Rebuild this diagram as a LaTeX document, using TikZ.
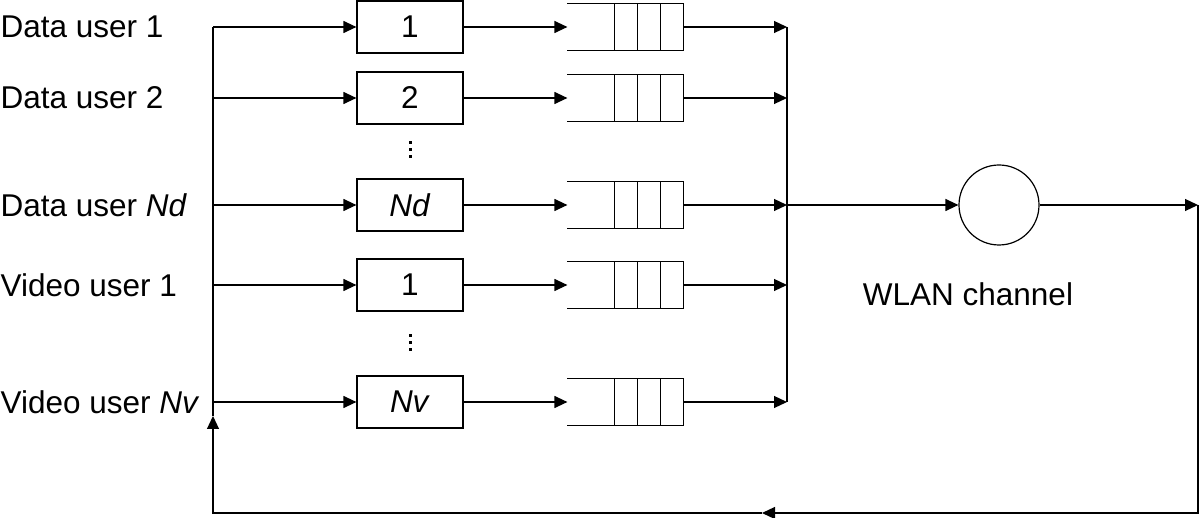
\documentclass[tikz,border=0pt]{standalone}
\usepackage{fontspec}
\setmainfont{Liberation Sans}
\usetikzlibrary{arrows.meta}
\newcommand\qcells[1]{%
  \draw (#1.north west) -- (#1.north east) -- (#1.south east) -- (#1.south west);
  \draw ([xshift=-23pt]#1.north east) -- ([xshift=-23pt]#1.south east);
  \draw ([xshift=-46pt]#1.north east) -- ([xshift=-46pt]#1.south east);
  \draw ([xshift=-69pt]#1.north east) -- ([xshift=-69pt]#1.south east);}
\begin{document}
\begin{tikzpicture}[x=1pt,y=-1pt,
  line width=1.2pt,
  arr/.style={-{Triangle[length=13pt,width=12pt]}},
  lbl/.style={anchor=west,inner sep=0pt,font=\fontsize{31.5}{37}\selectfont},
  srcbox/.style={draw,minimum width=106pt,minimum height=52pt,inner sep=0pt,font=\fontsize{31.5}{37}\selectfont},
  queue/.style={minimum width=115pt,minimum height=46pt,inner sep=0pt},
  chan/.style={draw,circle,minimum size=80pt,inner sep=0pt},
  dot/.style={fill=black}]
\useasboundingbox (0,0) rectangle (1200,518);
% labels
\node[lbl] (u1) at (0,27) {Data user 1};
\node[lbl] (u2) at (0,98) {Data user 2};
\node[lbl] (u3) at (0,205) {Data user \textit{Nd}};
\node[lbl] (u4) at (0,285) {Video user 1};
\node[lbl] (u5) at (0,402) {Video user \textit{Nv}};
% bus coordinates
\coordinate (b1) at (213,27);
\coordinate (b2) at (213,98);
\coordinate (b3) at (213,205);
\coordinate (b4) at (213,285);
\coordinate (b5) at (213,402);
% source boxes
\node[srcbox] (s1) at (410,27) {1};
\node[srcbox] (s2) at (410,98) {2};
\node[srcbox] (s3) at (410,205) {\textit{Nd}};
\node[srcbox] (s4) at (410,285) {1};
\node[srcbox] (s5) at (410,402) {\textit{Nv}};
% queues
\node[queue] (q1) at (625.5,27) {};
\node[queue] (q2) at (625.5,98) {};
\node[queue] (q3) at (625.5,205) {};
\node[queue] (q4) at (625.5,285) {};
\node[queue] (q5) at (625.5,402) {};
\qcells{q1}\qcells{q2}\qcells{q3}\qcells{q4}\qcells{q5}
% collector
\coordinate (c1) at (787,27);
\coordinate (c2) at (787,98);
\coordinate (c3) at (787,205);
\coordinate (c4) at (787,285);
\coordinate (c5) at (787,402);
% arrows in rows
\foreach \i in {1,...,5}{
  \draw[arr] (b\i) -- (s\i);
  \draw[arr] (s\i) -- (q\i);
  \draw[arr] (q\i.east) -- (c\i);
}
\draw (c1) -- (c5);
% dots
\foreach \yy in {143,150,157,336,343,350}
  \fill[dot] (409,\yy-1.5) rectangle (411.5,\yy+1.5);
% channel
\node[chan] (ch) at (999,205) {};
\node[lbl,anchor=center] (wl) at (968,294) {WLAN channel};
\draw[arr] (c3) -- (ch);
\coordinate (r) at (1198,205);
\draw[arr] (ch) -- (r);
% feedback
\coordinate (rb) at (1198,513);
\coordinate (m) at (762,513);
\coordinate (lb) at (213,513);
\coordinate (up) at (213,416);
\draw[arr] (r) -- (rb) -- (m);
\draw[arr] (m) -- (lb) -- (up);
\draw (b1) -- (b5) -- (up);
\end{tikzpicture}
\end{document}
